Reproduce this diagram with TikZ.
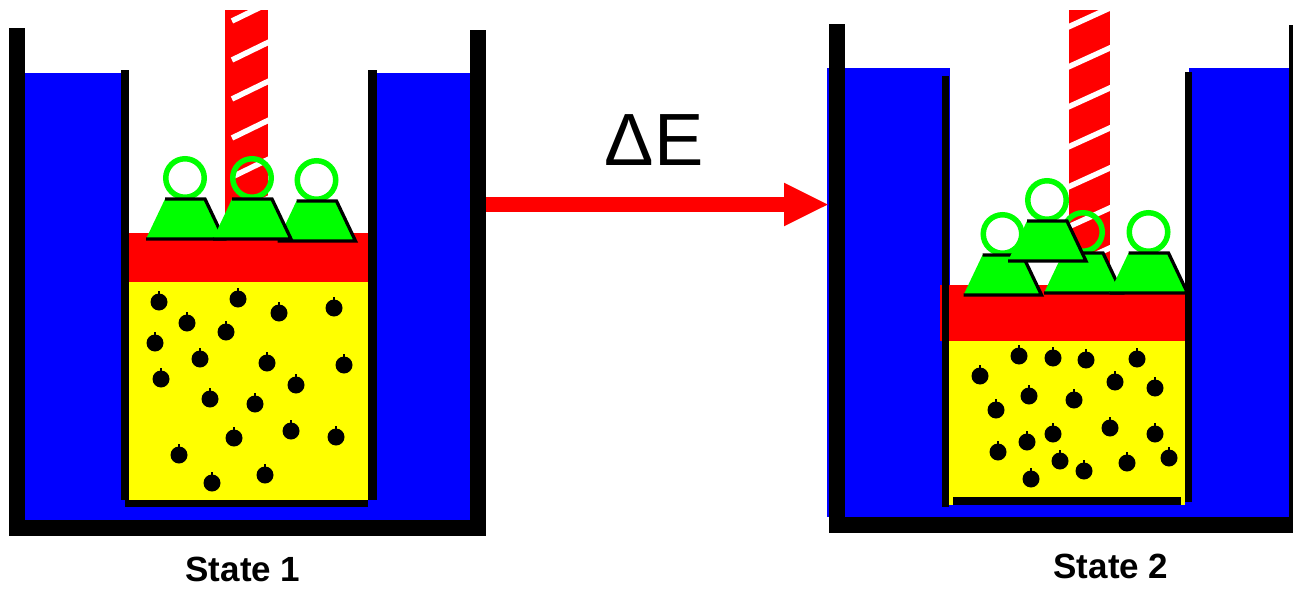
\documentclass[tikz,border=0pt]{standalone}
\usepackage{fontspec}
\setmainfont{Liberation Sans}
\usetikzlibrary{arrows.meta}
\definecolor{pureblue}{RGB}{0,0,255}
\definecolor{purered}{RGB}{255,0,0}
\definecolor{pureyellow}{RGB}{255,255,0}
\definecolor{puregreen}{RGB}{0,255,0}

\tikzset{
  water/.style={fill=pureblue},
  wall/.style={fill=black},
  gas/.style={fill=pureyellow},
  piston/.style={fill=purered},
  rodstripe/.style={draw=white, line width=5.5pt},
  ringline/.style={draw=puregreen, line width=5.5pt},
  rim/.style={draw=black, line width=3.3pt, line join=miter},
  statelabel/.style={font=\bfseries\fontsize{35}{35}\selectfont, anchor=base, inner sep=0pt},
  energylabel/.style={font=\fontsize{74}{74}\selectfont, anchor=base, inner sep=0pt},
  energyarrow/.style={draw=purered, line width=15pt,
    -{Triangle[length=45pt 0 0, width=40pt 0 0]}},
  % a weight: green trapezoid with its lifting ring, origin at top centre
  weight/.pic={
    \draw[ringline] (0,-21) circle[radius=19.25];
    \fill[puregreen] (-20,0) -- (20,0) -- (39,40) -- (-39,40) -- cycle;
    \draw[rim] (-20,0) -- (20,0) -- (39,40) -- (-39,40);
  },
  % a gas molecule
  molecule/.pic={
    \fill[black] (0,0) circle[radius=8.5];
    \fill[black] (-1.2,-7) rectangle (1.2,-11);
  }
}

\begin{document}
\begin{tikzpicture}[x=1pt,y=-1pt]
\useasboundingbox (0,0) rectangle (1293,589);
\fill[white] (0,0) rectangle (1293,589);

% ---------------- State 1 ----------------
\fill[water] (25,73) rectangle (470,520);
\fill[white] (129,60) rectangle (368,233);
\fill[gas] (129,282) rectangle (368,500);
\fill[piston] (128,233) rectangle (368,282);

\foreach \px/\py in {159/302, 238/299, 279/313, 334/308, 187/323, 226/332,
  155/343, 200/359, 267/363, 344/365, 161/379, 296/385, 210/399, 255/404,
  234/438, 291/431, 336/437, 179/455, 212/483, 265/475}
  \pic at (\px,\py) {molecule};

% striped piston rod
\fill[purered] (225,10) rectangle (268,233);
\begin{scope}
  \clip (225,10) rectangle (268,233);
  \foreach \k in {0,...,5}
    \draw[rodstripe] (232,21+39*\k) -- (270,21+39*\k-18.5);
\end{scope}

\pic at (185,199) {weight};
\pic at (316.5,201) {weight};
\pic at (252,199) {weight};

% container walls
\fill[wall] (121,70) rectangle (129,500);
\fill[wall] (368,70) rectangle (377,500);
\fill[wall] (125,500) rectangle (368,507);
\fill[wall] (9,28) rectangle (25,536);
\fill[wall] (470,30) rectangle (486,536);
\fill[wall] (9,520) rectangle (486,536);

\coordinate (leftcontainer) at (486,204.5);

% ---------------- State 2 ----------------
\fill[water] (827,68) rectangle (1293,517);
\fill[white] (950,60) rectangle (1189,285);
\fill[gas] (949,341) rectangle (1185,505);
\fill[piston] (940,285) rectangle (1185,341);

\foreach \px/\py in {1019/356, 1053/358, 1086/360, 1137/359, 980/376,
  1115/382, 1155/388, 1029/396, 1074/400, 996/410, 1110/428, 1155/434,
  1053/434, 1027/442, 998/452, 1169/458, 1060/461, 1127/463, 1084/471,
  1031/479}
  \pic at (\px,\py) {molecule};

\fill[purered] (1069,10) rectangle (1110,285);
\begin{scope}
  \clip (1069,10) rectangle (1110,285);
  \foreach \k in {0,...,6}
    \draw[rodstripe] (1066,28+40*\k) -- (1112,28+40*\k-21);
\end{scope}

\pic at (1083,253) {weight};
\pic at (1002.5,255) {weight};
\pic at (1047,221) {weight};
\pic at (1148.5,253) {weight};

\fill[wall] (942,76) rectangle (949,507);
\fill[wall] (1185,72) rectangle (1192,502);
\fill[wall] (953,497) rectangle (1181,505);
\fill[wall] (829,24) rectangle (845,533);
\fill[wall] (1289,25) rectangle (1293,533);
\fill[wall] (829,517) rectangle (1293,533);

\coordinate (rightcontainer) at (829,204.5);

% ---------------- energy transfer ----------------
\draw[energyarrow] (leftcontainer) -- (rightcontainer);
\node[energylabel] (deltaE) at (654,165) {ΔE};

\node[statelabel] (state1) at (243,581) {State 1};
\node[statelabel] (state2) at (1111,578) {State 2};
\end{tikzpicture}
\end{document}
